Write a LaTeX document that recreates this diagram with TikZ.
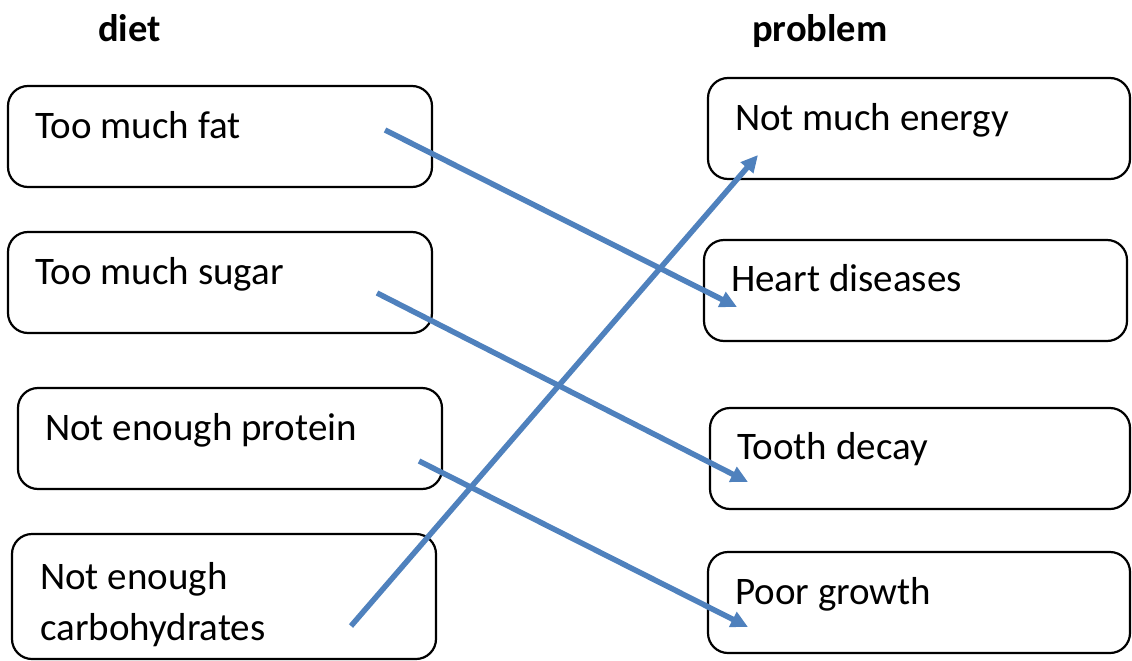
\documentclass[tikz,border=0pt]{standalone}
\usepackage{fontspec}
\setmainfont{Carlito}
\usetikzlibrary{arrows.meta}
\definecolor{arrowblue}{RGB}{79,129,189}
\begin{document}
\begin{tikzpicture}[x=1pt,y=-1pt,
  box/.style={draw=black,line width=2.2pt,rounded corners=20pt},
  lbl/.style={anchor=base west,inner sep=0pt,font=\fontsize{39}{46}\selectfont},
  head/.style={anchor=base west,inner sep=0pt,font=\fontsize{38.5}{46}\selectfont\bfseries},
  link/.style={draw=arrowblue,line width=5.5pt,-{Triangle[length=17pt,width=16pt]}}]
\useasboundingbox (0,0) rectangle (1132,661);
\node[head] (hd) at (98,42) {diet};
\node[head] (hp) at (752,42) {problem};
% left boxes
\draw[box] (8,86) rectangle (432,187);
\draw[box] (8,232) rectangle (432,333);
\draw[box] (18,388) rectangle (442,489);
\draw[box] (12,534) rectangle (436,659);
\node[lbl] (l1) at (35,138) {Too much fat};
\node[lbl] (l2) at (35,284) {Too much sugar};
\node[lbl] (l3) at (45,440) {Not enough protein};
\node[lbl] (l4a) at (40,589) {Not enough};
\node[lbl] (l4b) at (40,640) {carbohydrates};
% right boxes
\draw[box] (708,78) rectangle (1130,179);
\draw[box] (704,240) rectangle (1127,341);
\draw[box] (710,408) rectangle (1130,509);
\draw[box] (708,552) rectangle (1130,653);
\node[lbl] (r1) at (735,130) {Not much energy};
\node[lbl] (r2) at (731,291) {Heart diseases};
\node[lbl] (r3) at (737,459) {Tooth decay};
\node[lbl] (r4) at (735,604) {Poor growth};
% arrows
\coordinate (s1) at (385,130); \coordinate (e1) at (737,307);
\coordinate (s2) at (377,293); \coordinate (e2) at (748,482);
\coordinate (s3) at (419,461); \coordinate (e3) at (748,627);
\coordinate (s4) at (351,626); \coordinate (e4) at (758,155);
\draw[link] (s1) -- (e1);
\draw[link] (s2) -- (e2);
\draw[link] (s3) -- (e3);
\draw[link] (s4) -- (e4);
\end{tikzpicture}
\end{document}
